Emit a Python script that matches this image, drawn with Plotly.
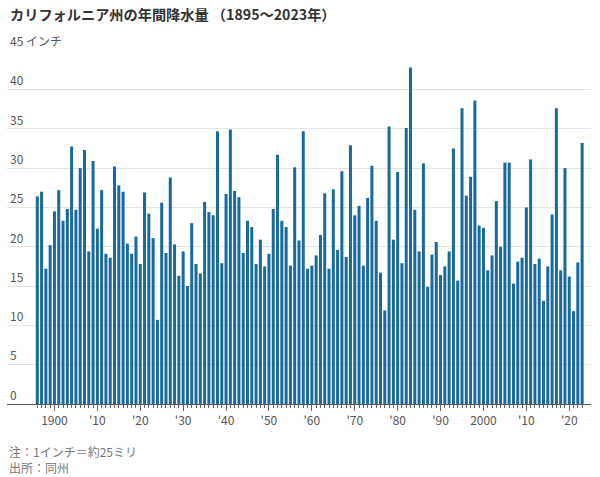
import plotly.graph_objects as go

years = list(range(1896, 2024))
precip = [
    26.4, 27.0, 17.2, 20.2, 24.5, 27.2, 23.3, 24.8, 32.75, 24.7, 30.0, 32.3, 19.4, 30.9, 22.3, 27.2,
    19.1, 18.6, 30.2, 27.8, 27.0, 20.4, 19.1, 21.3, 17.8, 26.9, 24.2,
    21.1, 10.7, 25.6, 19.2, 28.8, 20.3, 16.3, 19.4, 15.0, 23.0, 17.8, 16.6, 25.7, 24.4, 24.0, 34.7,
    17.9, 26.7, 34.9, 27.1, 26.3, 19.2, 23.3, 22.5, 17.8,
    20.9, 17.5, 19.1, 24.8, 31.7, 23.3, 22.5, 17.6, 30.1, 20.8, 34.7, 17.2, 17.6, 18.9, 21.5, 26.8,
    17.2, 27.3, 19.6, 29.6, 18.7, 32.9, 24.0, 25.2, 17.6, 26.2,
    30.3, 23.3, 16.7, 11.9, 35.3, 20.9, 29.5, 17.9, 35.1, 42.8, 24.7, 19.4, 30.6, 14.9, 19.0, 20.6,
    16.4, 17.5, 19.4, 32.5, 15.7, 37.6, 26.5, 28.9, 38.6, 22.7,
    22.4, 17.0, 18.9, 25.8, 20.0, 30.7, 30.7, 15.3, 18.1, 18.6, 25.0, 31.1, 17.8, 18.5, 13.1, 17.5,
    24.1, 37.6, 17.0, 30.0, 16.2, 11.8, 18.0, 33.2,
]

x_tick_vals = list(range(1900, 2030, 10))
x_tick_text = ["1900", "'10", "'20", "'30", "'40", "'50", "'60", "'70", "'80", "'90", "2000", "'10", "'20"]
y_tick_vals = [0, 5, 10, 15, 20, 25, 30, 35, 40, 45]
y_tick_text = ["0", "5", "10", "15", "20", "25", "30", "35", "40", "45 インチ"]

title_text = "<b>カリフォルニア州の年間降水量 （1895〜2023年）</b>"
note_text = "注：1インチ＝約25ミリ"
source_text = "出所：同州"

FONT = "Noto Sans CJK JP"
BAR = "#176a9b"

fig = go.Figure(
    go.Bar(x=years, y=precip, marker=dict(color=BAR, line=dict(width=0)), hoverinfo="x+y")
)

fig.update_layout(
    template="none",
    width=600,
    height=477,
    margin=dict(l=7, r=9, t=50, b=73, autoexpand=False),
    paper_bgcolor="white",
    plot_bgcolor="white",
    bargap=0.3,
    showlegend=False,
    font=dict(family=FONT, size=12, color="#555"),
    xaxis=dict(
        range=[1888.94, 2025.07],
        automargin=False,
        tickmode="array",
        tickvals=x_tick_vals,
        ticktext=x_tick_text,
        ticks="outside",
        ticklen=6,
        tickwidth=1,
        tickcolor="#666",
        showline=True,
        linecolor="#555",
        linewidth=1,
        showgrid=False,
        zeroline=False,
        tickfont=dict(size=12, color="#555"),
        minor=dict(tickmode="array", tickvals=years, ticks="outside", ticklen=3,
                   tickcolor="#666", tickwidth=1, showgrid=False),
        fixedrange=True,
    ),
    yaxis=dict(
        range=[0, 45.02],
        automargin=False,
        tickmode="array",
        tickvals=y_tick_vals,
        ticktext=y_tick_text,
        ticklabelposition="inside top",
        ticklabeloverflow="allow",
        ticks="",
        showgrid=True,
        gridcolor="#e4e4e4",
        gridwidth=1,
        zeroline=False,
        showline=False,
        tickfont=dict(size=12, color="#555"),
        fixedrange=True,
    ),
    annotations=[
        dict(text=title_text, xref="paper", yref="paper", x=0.0, y=(404 - 14) / 354,
             xanchor="left", yanchor="middle", showarrow=False, xshift=1,
             font=dict(family=FONT, size=14.2, color="#333")),
        dict(text=note_text, xref="paper", yref="paper", x=0.0, y=(404 - 451) / 354,
             xanchor="left", yanchor="middle", showarrow=False,
             font=dict(family=FONT, size=12, color="#777")),
        dict(text=source_text, xref="paper", yref="paper", x=0.0, y=(404 - 467) / 354,
             xanchor="left", yanchor="middle", showarrow=False,
             font=dict(family=FONT, size=12, color="#777")),
    ],
)

fig.write_html(
    "out.html",
    config={"displayModeBar": False},
    post_script="document.body.style.margin='0';document.body.style.overflow='hidden';",
)
